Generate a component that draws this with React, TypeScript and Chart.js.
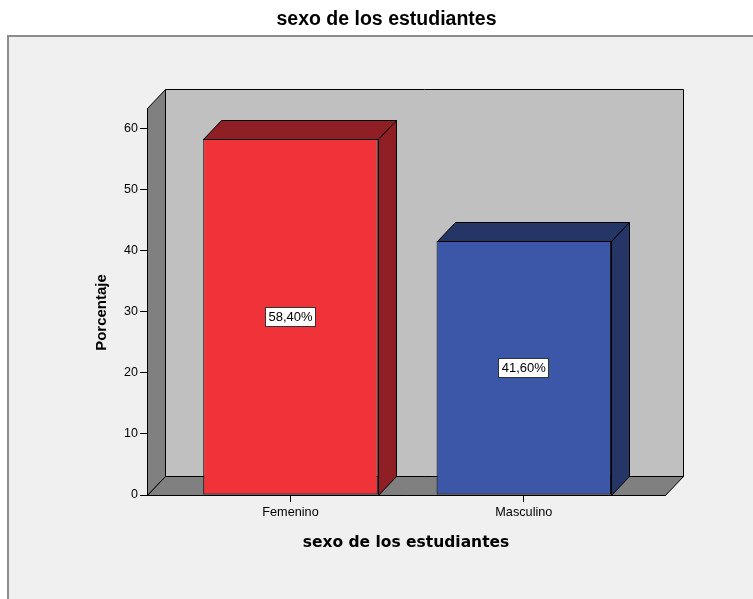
import React, { useEffect, useRef } from "react";
import { Chart, registerables } from "chart.js";

Chart.register(...registerables);

const categories = ["Femenino", "Masculino"];
const percentages = [58.4, 41.6];
const valueLabels = ["58,40%", "41,60%"];
const yTickValues = [0, 10, 20, 30, 40, 50, 60];

const chartTitle = "sexo de los estudiantes";
const xTitle = "sexo de los estudiantes";
const yTitle = "Porcentaje";

const FRONT_COLORS = ["#f03239", "#3d57a8"];
const SHADE_COLORS = ["#8f1f24", "#243566"];
const DX = 18;
const DY = 19;
const FONT = "Arial, 'Liberation Sans', sans-serif";
const AXIS_TITLE_FONT = "'DejaVu Sans', Verdana, sans-serif";

const r = (v: number) => Math.round(v) + 0.5;

const scene3d = {
  id: "scene3d",
  beforeDraw(chart: any) {
    const { ctx, chartArea: a, width, height } = chart;
    ctx.save();
    ctx.fillStyle = "#ffffff";
    ctx.fillRect(0, 0, width, height);
    ctx.fillStyle = "#f0f0f0";
    ctx.fillRect(8, 36, width - 8, height - 36);
    ctx.strokeStyle = "#8c8c8c";
    ctx.lineWidth = 2;
    ctx.beginPath();
    ctx.moveTo(8, height);
    ctx.lineTo(8, 36);
    ctx.lineTo(width, 36);
    ctx.stroke();

    const L = a.left, T = a.top, R = a.right, B = a.bottom;
    ctx.lineWidth = 1;
    ctx.strokeStyle = "#000";
    // back wall
    ctx.fillStyle = "#c0c0c0";
    ctx.beginPath();
    ctx.rect(r(L + DX), r(T - DY), Math.round(R - L), Math.round(B - T));
    ctx.fill();
    ctx.stroke();
    // left wall
    ctx.fillStyle = "#808080";
    ctx.beginPath();
    ctx.moveTo(r(L), r(T));
    ctx.lineTo(r(L + DX), r(T - DY));
    ctx.lineTo(r(L + DX), r(B - DY));
    ctx.lineTo(r(L), r(B));
    ctx.closePath();
    ctx.fill();
    ctx.stroke();
    // floor
    ctx.beginPath();
    ctx.moveTo(r(L), r(B));
    ctx.lineTo(r(L + DX), r(B - DY));
    ctx.lineTo(r(R + DX), r(B - DY));
    ctx.lineTo(r(R), r(B));
    ctx.closePath();
    ctx.fill();
    ctx.stroke();
    ctx.restore();
  },
  afterDatasetsDraw(chart: any) {
    const { ctx, chartArea: a } = chart;
    const meta = chart.getDatasetMeta(0);
    ctx.save();
    ctx.lineWidth = 1;
    ctx.strokeStyle = "#000";
    meta.data.forEach((el: any, i: number) => {
      const { x, y, base, width } = el.getProps(["x", "y", "base", "width"], true);
      const left = x - width / 2;
      const right = x + width / 2;
      ctx.fillStyle = SHADE_COLORS[i];
      // top face
      ctx.beginPath();
      ctx.moveTo(r(left), r(y));
      ctx.lineTo(r(left + DX), r(y - DY));
      ctx.lineTo(r(right + DX), r(y - DY));
      ctx.lineTo(r(right), r(y));
      ctx.closePath();
      ctx.fill();
      ctx.stroke();
      // side face
      ctx.beginPath();
      ctx.moveTo(r(right), r(y));
      ctx.lineTo(r(right + DX), r(y - DY));
      ctx.lineTo(r(right + DX), r(base - DY));
      ctx.lineTo(r(right), r(base));
      ctx.closePath();
      ctx.fill();
      ctx.stroke();

      // value label box
      ctx.font = `13px ${FONT}`;
      const label = valueLabels[i];
      const tw = ctx.measureText(label).width;
      const bw = Math.round(tw + 7);
      const bh = 20;
      const cy = (y + base) / 2;
      const bx = Math.round(x - bw / 2);
      const by = Math.round(cy - bh / 2);
      ctx.fillStyle = "#ffffff";
      ctx.fillRect(bx, by, bw, bh);
      ctx.strokeStyle = "#333";
      ctx.strokeRect(bx + 0.5, by + 0.5, bw - 1, bh - 1);
      ctx.strokeStyle = "#000";
      ctx.fillStyle = "#000";
      ctx.textAlign = "center";
      ctx.textBaseline = "middle";
      ctx.fillText(label, x, by + bh / 2 + 0.5);
    });

    // y axis title
    ctx.font = `bold 15px ${FONT}`;
    ctx.fillStyle = "#000";
    ctx.textAlign = "center";
    ctx.textBaseline = "middle";
    ctx.translate(102, (a.top + a.bottom) / 2 + 11);
    ctx.rotate(-Math.PI / 2);
    ctx.fillText(yTitle, 0, 0);
    ctx.restore();
  },
};

export default function App() {
  const canvasRef = useRef<HTMLCanvasElement | null>(null);

  useEffect(() => {
    if (!canvasRef.current) return;
    const chart = new Chart(canvasRef.current, {
      type: "bar",
      data: {
        datasets: [
          {
            data: categories.map((c, i) => ({ x: i, y: percentages[i] })),
            backgroundColor: FRONT_COLORS,
            borderColor: "#000",
            borderWidth: 1,
            borderSkipped: false,
            barPercentage: 0.748,
            categoryPercentage: 1,
          } as any,
        ],
      },
      options: {
        animation: false,
        responsive: true,
        maintainAspectRatio: false,
        layout: { padding: { left: 20, right: 0, top: 0, bottom: 0 } },
        plugins: {
          legend: { display: false },
          tooltip: { enabled: false },
          title: {
            display: true,
            text: chartTitle,
            color: "#000",
            font: { size: 19.5, weight: "bold", family: FONT },
            padding: { top: 8, bottom: 76.6 },
          },
        },
        scales: {
          x: {
            type: "linear",
            min: -0.615,
            max: 1.605,
            bounds: "data",
            offset: false,
            afterBuildTicks: (s: any) => {
              s.ticks = categories.map((_, i) => ({ value: i }));
            },
            afterFit: (s: any) => {
              s.height = 104;
            },
            ticks: {
              callback: (v: any) => categories[v as number] ?? "",
              color: "#000",
              font: { size: 12.7, family: FONT },
              padding: 3,
              maxRotation: 0,
              autoSkip: false,
            },
            grid: { offset: false, drawOnChartArea: false, drawTicks: true, tickLength: 7, color: "#000" },
            border: { display: true, color: "#000" },
            title: {
              display: true,
              text: xTitle,
              color: "#000",
              font: { size: 15.5, weight: "bold", family: AXIS_TITLE_FONT },
              padding: { top: 0, bottom: 47 },
            },
          },
          y: {
            type: "linear",
            min: 0,
            max: 63.4,
            afterBuildTicks: (s: any) => {
              s.ticks = yTickValues.map((v) => ({ value: v }));
            },
            afterFit: (s: any) => {
              s.width = 127;
            },
            ticks: { color: "#000", font: { size: 12.5, family: FONT }, padding: 2 },
            grid: { drawOnChartArea: false, drawTicks: true, tickLength: 7, color: "#000" },
            border: { display: true, color: "#000" },
            title: { display: false },
          },
          y2: {
            type: "linear",
            position: "right",
            display: true,
            grid: { display: false },
            ticks: { display: false },
            border: { display: false },
            afterFit: (s: any) => {
              s.width = 88;
            },
          },
        },
      } as any,
      plugins: [scene3d],
    });
    return () => chart.destroy();
  }, []);

  return (
    <div style={{ position: "absolute", left: 0, top: 0, width: 753, height: 599 }}>
      <canvas ref={canvasRef} />
    </div>
  );
}
